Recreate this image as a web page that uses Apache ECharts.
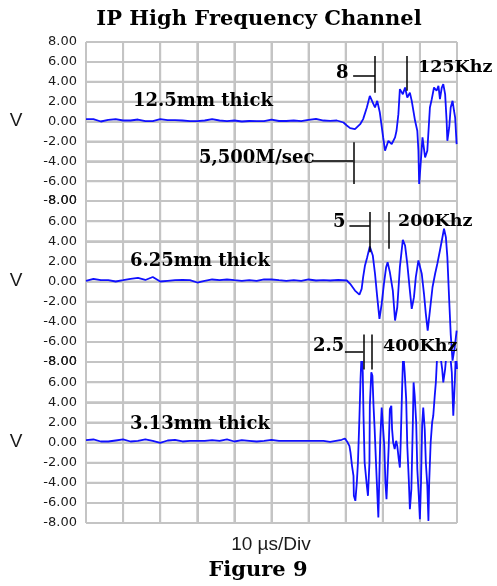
<!DOCTYPE html>
<html>
<head>
<meta charset="utf-8">
<script src="https://cdn.jsdelivr.net/npm/echarts@6/dist/echarts.min.js"></script>
<style>html,body{margin:0;padding:0;background:#fff;}#c{width:497px;height:586px;}</style>
</head>
<body>
<div id="c"></div>
<script>
// ---- data (time in µs, amplitude in V) ----
const tFlat = [0,2,4,6,8,10,12,14,16,18,20,22,24,26,28,30,32,34,36,38,40,42,44,46,48,50,52,54,56,58,60,62,64];
const v1Flat = [0.23,0.23,0.0,0.17,0.23,0.1,0.1,0.2,0.03,0.03,0.23,0.13,0.13,0.1,0.03,0.03,0.1,0.23,0.1,0.03,0.1,0.0,0.05,0.03,0.03,0.2,0.05,0.05,0.1,0.03,0.17,0.27,0.1];
const v2Flat = [0.07,0.27,0.13,0.13,0.0,0.13,0.27,0.35,0.15,0.45,0.0,0.07,0.13,0.17,0.13,-0.1,0.07,0.2,0.13,0.2,0.13,0.07,0.13,0.07,0.2,0.2,0.13,0.07,0.13,0.07,0.2,0.1,0.13];
const v3Flat = [0.23,0.3,0.1,0.1,0.2,0.3,0.1,0.17,0.3,0.17,-0.03,0.2,0.27,0.1,0.17,0.17,0.17,0.23,0.17,0.3,0.1,0.23,0.17,0.1,0.17,0.27,0.17,0.17,0.17,0.17,0.17,0.17,0.17];

const t1Wave = [65.8,67.6,69.4,70.3,71.2,72.5,73.9,74.7,75.7,76.5,77.3,77.9,78.5,79.2,80.1,80.6,81.5,82.4,83.3,83.7,84.2,84.6,85.4,86.0,86.6,87.3,87.8,88.7,89.3,89.6,89.8,90.2,90.7,91.4,92.0,92.7,93.2,93.8,94.5,95.0,95.4,95.9,96.3,96.8,97.2,97.4,97.9,98.3,98.8,99.2,99.5,99.9];
const v1Wave = [0.07,0.1,-0.1,-0.4,-0.67,-0.77,-0.27,0.24,1.41,2.58,1.91,1.41,2.08,0.9,-1.6,-2.94,-1.94,-2.28,-1.6,-0.93,0.74,3.26,2.75,3.42,2.41,2.91,2.08,0.07,-0.93,-2.94,-6.29,-4.28,-1.6,-3.62,-2.94,1.41,2.25,3.42,3.09,3.59,2.25,3.42,3.76,2.75,0.07,-1.94,-0.6,1.41,2.08,1.08,0.4,-2.28];

const t2Wave = [65.8,68.0,70.3,71.2,72.5,73.7,74.3,74.7,75.2,75.8,76.5,77.3,77.9,78.5,79.1,79.7,80.3,80.9,81.3,81.9,82.7,83.3,83.9,84.6,85.4,86.0,86.6,87.3,87.8,88.4,88.9,89.6,90.0,90.5,91.1,91.6,92.1,92.7,93.4,94.1,94.7,95.4,96.0,96.5,97.0,97.4,97.9,98.3,98.8,99.4,99.9];
const v2Wave = [0.1,0.15,0.1,-0.23,-0.9,-1.3,-0.73,0.43,1.6,2.42,3.48,2.59,0.77,-1.56,-3.71,-2.22,-0.23,1.42,1.92,0.93,-0.9,-3.88,-2.56,1.42,4.15,3.58,1.76,-0.9,-2.72,-1.56,0.43,2.09,2.26,0.77,-1.22,-3.21,-4.88,-2.89,-0.57,0.77,1.76,3.08,4.25,5.24,4.41,2.42,-1.89,-5.2,-7.86,-6.5,-4.88];

const t3Wave = [65.8,68.9,69.8,70.4,71.0,71.3,71.7,72.1,72.2,72.6,73.0,73.3,73.7,74.0,74.3,74.6,74.8,75.1,75.7,76.0,76.4,76.5,76.9,77.2,77.5,77.8,78.2,78.8,79.3,79.7,80.1,80.4,80.7,81.0,81.3,81.6,81.9,82.3,82.5,82.8,83.2,83.6,83.9,84.3,84.6,84.8,85.2,85.5,85.9,86.3,86.6,87.0,87.3,87.7,88.1,88.3,88.6,89.0,89.3,89.7,90.0,90.3,90.6,90.9,91.3,91.6,92.0,92.3,92.5,92.9,93.3,93.6,94.0,94.3,94.7,95.4,96.0,96.3,96.8,97.2,98.1,98.6,99.0,99.4,99.7,100];
const v3Wave = [0.07,0.27,0.4,0.07,-0.33,-1.0,-2.32,-3.32,-5.3,-5.8,-3.98,-1.99,2.49,6.3,9,6.97,2.66,-1.99,-4.3,-5.3,-1.99,3.65,6.97,6.63,3.65,1.33,-2.32,-7.46,0.17,3.48,3.65,-0.33,-3.98,-5.64,-2.99,-0.33,3.31,3.65,1.33,0,-0.66,0.17,-0.33,-1.66,-2.49,-0.33,5.31,9,6.97,4.31,-0.33,-3.65,-6.63,-4.65,1.99,5.97,4.65,1.99,-2.66,-5.3,-7.63,-3.98,1.66,3.48,1.33,-1.99,-4.3,-7.79,-3.98,0,1.99,2.66,4.65,5.97,9,9,7.3,5.97,7.3,9,9,6.97,2.66,5.97,9,7.3];

const panelLabels = ['12.5mm thick','6.25mm thick','3.13mm thick'];
const xTicks = [0,10,20,30,40,50,60,70,80,90,100];
const yTicks = [-8,-6,-4,-2,0,2,4,6,8];

// annotation leader lines, in data units [[t,v],[t,v]]
const leaders1 = [[[72.0,4.6],[77.9,4.6]],[[77.9,6.6],[77.9,2.9]],[[86.4,6.6],[86.4,3.1]],[[61.2,-3.95],[72.05,-3.95]],[[72.05,-2.1],[72.05,-6.3]]];
const leaders2 = [[[71.0,5.57],[76.5,5.57]],[[76.5,6.9],[76.5,2.9]],[[81.5,6.9],[81.5,3.25]],[[69.8,-6.94],[74.75,-6.94]],[[74.75,-5.27],[74.75,-8]],[[77.0,-5.27],[77.0,-8]]];
const leaders3 = [[[74.75,8],[74.75,7.26]],[[77.0,8],[77.0,7.26]]];

function zip(ts, vs){ return ts.map((t,i)=>[t, vs[i]]); }
const d1 = zip(tFlat.concat(t1Wave), v1Flat.concat(v1Wave));
const d2 = zip(tFlat.concat(t2Wave), v2Flat.concat(v2Wave));
const d3 = zip(tFlat.concat(t3Wave), v3Flat.concat(v3Wave));

// grid-line polylines built from the tick arrays, broken by gaps
function gridPath(){
  const pts = [];
  const y0 = yTicks[0], y1 = yTicks[yTicks.length-1];
  const x0 = xTicks[0], x1 = xTicks[xTicks.length-1];
  xTicks.forEach(x=>{ pts.push([x,y0],[x,y1],[x,'-']); });
  yTicks.forEach(y=>{ pts.push([x0,y],[x1,y],[x1,'-']); });
  return pts;
}

const gridColor = '#c4c4c4';
const grids = [{top:42,height:159},{top:201,height:161},{top:362,height:161}];

const chart = echarts.init(document.getElementById('c'));
const xAxes = grids.map((g,i)=>({
  type:'value', gridIndex:i, min:0, max:100, interval:10,
  axisLine:{show:false}, axisTick:{show:false}, axisLabel:{show:false},
  splitLine:{show:true, lineStyle:{color:gridColor, width:2}}
}));
const yAxes = grids.map((g,i)=>({
  type:'value', gridIndex:i, min:-8, max:8, interval:2,
  axisLine:{show:false}, axisTick:{show:false},
  axisLabel:{show:true, margin:9, color:'#1a1a1a', fontFamily:'DejaVu Sans', fontSize:13,
    formatter:v=>v.toFixed(2)},
  splitLine:{show:true, lineStyle:{color:gridColor, width:2}}
}));

function mk(lines){
  return {silent:true, symbol:['none','none'], animation:false,
    lineStyle:{color:'#000', width:1.5, type:'solid'}, label:{show:false},
    data: lines.map(l=>[{coord:l[0]},{coord:l[1]}])};
}
const traceStyle = {color:'#1010ff', width:1.8};
const series = [];
grids.forEach((g,i)=>{
  series.push({type:'line', name:'grid'+i, z:1, silent:true, xAxisIndex:i, yAxisIndex:i, data:gridPath(),
    symbol:'none', connectNulls:false, clip:false, color:gridColor,
    lineStyle:{color:gridColor, width:2}, emphasis:{disabled:true}});
});
series.push(
  {type:'line', z:3, xAxisIndex:0, yAxisIndex:0, data:d1, symbol:'none', color:'#1010ff', lineStyle:traceStyle, clip:false, markLine:mk(leaders1)},
  {type:'line', z:3, xAxisIndex:1, yAxisIndex:1, data:d2, symbol:'none', color:'#1010ff', lineStyle:traceStyle, clip:false, markLine:mk(leaders2)},
  {type:'line', z:3, xAxisIndex:2, yAxisIndex:2, data:d3, symbol:'none', color:'#1010ff', lineStyle:traceStyle, clip:true, markLine:mk(leaders3)}
);

const serif = 'DejaVu Serif';
function txt(x,y,s,opts){
  return {type:'text', x, y, silent:true, z:100, style:Object.assign({text:s, fill:'#000', font:'bold 18px "'+serif+'"', textAlign:'left', textVerticalAlign:'middle'}, opts||{})};
}
const graphics = [
  txt(259,19.5,'IP High Frequency Channel',{font:'bold 21px "'+serif+'"', textAlign:'center'}),
  txt(258,571,'Figure 9',{font:'bold 21px "'+serif+'"', textAlign:'center'}),
  txt(271,545,'10 µs/Div',{font:'19px "Liberation Sans"', textAlign:'center', fill:'#1a1a1a'}),
  txt(16,121,'V',{font:'19px "Liberation Sans"', textAlign:'center', fill:'#1a1a1a'}),
  txt(16,281,'V',{font:'19px "Liberation Sans"', textAlign:'center', fill:'#1a1a1a'}),
  txt(16,442,'V',{font:'19px "Liberation Sans"', textAlign:'center', fill:'#1a1a1a'}),
  txt(133,101.8,panelLabels[0]),
  txt(130,261.5,panelLabels[1]),
  txt(130,424,panelLabels[2]),
  txt(336,73.5,'8'),
  txt(418,67.5,'125Khz',{font:'bold 17.5px "'+serif+'"'}),
  txt(199,158.5,'5,500M/sec'),
  txt(333,222.5,'5'),
  txt(398,221,'200Khz',{font:'bold 17.5px "'+serif+'"'}),
  txt(313,346,'2.5'),
  txt(383,346,'400Khz',{font:'bold 17.5px "'+serif+'"'})
];

chart.setOption({
  animation:false,
  grid: grids.map(g=>({left:86, width:371, top:g.top, height:g.height})),
  xAxis:xAxes, yAxis:yAxes, series, graphic:graphics
});
</script>
</body>
</html>
